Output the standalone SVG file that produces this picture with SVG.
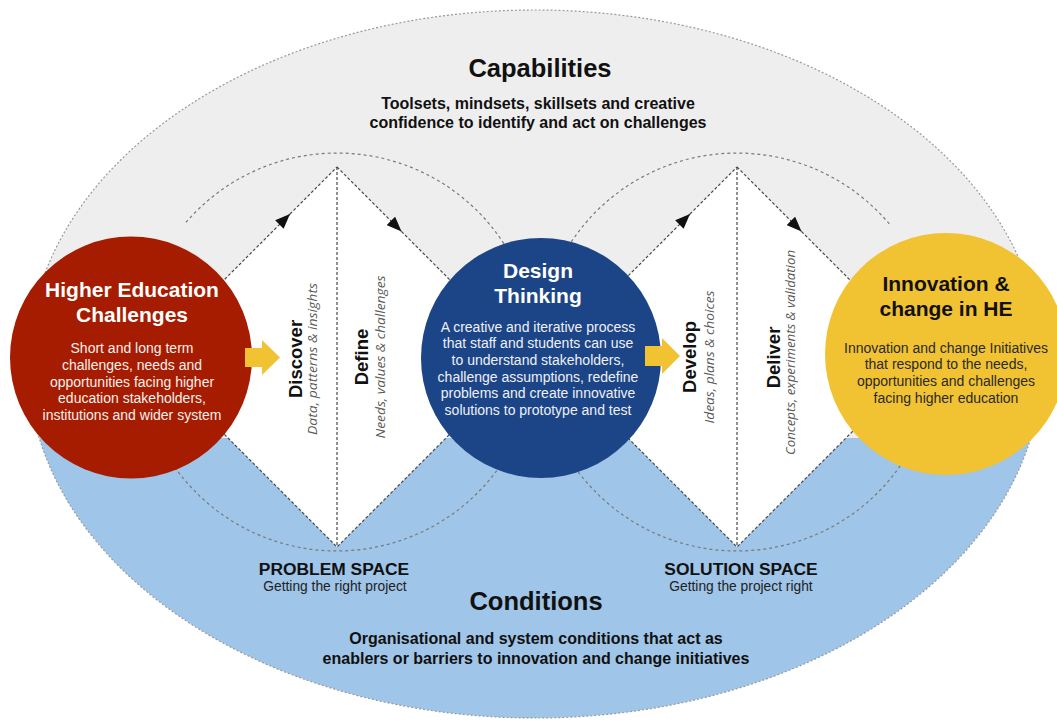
<svg xmlns="http://www.w3.org/2000/svg" width="1057" height="720" viewBox="0 0 1057 720">
  <style>
    .sans { font-family: "Liberation Sans", Arial, sans-serif; }
    .title { font-size: 25.5px; font-weight: bold; fill: #111; text-anchor: middle; }
    .lead { font-size: 16px; font-weight: bold; fill: #111; text-anchor: middle; }
    .space { font-size: 17.4px; font-weight: bold; fill: #111; text-anchor: middle; }
    .spacesub { font-size: 13.8px; fill: #222; text-anchor: middle; }
    .head { font-size: 21px; font-weight: bold; text-anchor: middle; }
    .body { font-size: 14px; text-anchor: middle; }
    .phase { font-size: 18.5px; font-weight: bold; fill: #111; text-anchor: middle; }
    .phasesub { font-family: "Open Sans", "DejaVu Sans", sans-serif; font-style: italic; font-size: 13px; fill: #5a5a5a; text-anchor: middle; }
    .edge { fill: none; stroke: #4a4a4a; stroke-width: 1.2; stroke-dasharray: 3 2; }
    .loop { fill: none; stroke: #7a7a7a; stroke-width: 1.2; stroke-dasharray: 3 3; }
    .push { fill: #f1c232; }
  </style>
  <defs>
    <clipPath id="field">
      <ellipse cx="535" cy="364" rx="507" ry="354"/>
    </clipPath>
    <marker id="arrowhead" markerUnits="userSpaceOnUse" markerWidth="15" markerHeight="12" refX="15" refY="6" orient="auto">
      <path d="M0,0 L15,6 L0,12 Z" fill="#111" stroke="none"/>
    </marker>
  </defs>

  <rect width="1057" height="720" fill="#ffffff"/>

  <!-- outer field: capabilities above, conditions below -->
  <g id="field-background">
    <g clip-path="url(#field)">
      <rect x="0" y="0" width="1057" height="438" fill="#eeeeee"/>
      <rect x="0" y="438" width="1057" height="282" fill="#9fc5e8"/>
    </g>
    <ellipse cx="535" cy="364" rx="507" ry="354" fill="none" stroke="#9a9a9a" stroke-width="1.2" stroke-dasharray="2 2"/>
  </g>

  <g id="capabilities" class="sans">
    <text class="title" x="540" y="77">Capabilities</text>
    <text class="lead" x="538" y="108.5">Toolsets, mindsets, skillsets and creative</text>
    <text class="lead" x="538" y="127.5">confidence to identify and act on challenges</text>
  </g>

  <g id="conditions" class="sans">
    <text class="title" x="536" y="610">Conditions</text>
    <text class="lead" x="536" y="644">Organisational and system conditions that act as</text>
    <text class="lead" x="536" y="663.5">enablers or barriers to innovation and change initiatives</text>
  </g>

  <g id="problem-space-label" class="sans">
    <text class="space" x="334" y="575">PROBLEM SPACE</text>
    <text class="spacesub" x="335" y="591">Getting the right project</text>
  </g>

  <g id="solution-space-label" class="sans">
    <text class="space" x="741" y="575">SOLUTION SPACE</text>
    <text class="spacesub" x="741" y="591">Getting the project right</text>
  </g>

  <!-- diamond panels (white fill only; outlines live with the connectors) -->
  <g id="problem-diamond">
    <polygon points="337,167 527,357 337,547 147,357" fill="#ffffff"/>
  </g>
  <g id="solution-diamond">
    <polygon points="737,167 927,357 737,547 547,357" fill="#ffffff"/>
  </g>

  <g id="connectors">
    <!-- iteration loops around each diamond -->
    <path class="loop" d="M186,222.4 A199,199 0 0 1 512,257.3"/>
    <path class="loop" d="M162,446.7 A199,199 0 0 0 512,446.7"/>
    <path class="loop" d="M562,257.3 A199,199 0 0 1 890,224.8"/>
    <path class="loop" d="M562,446.7 A199,199 0 0 0 912,446.7"/>
    <!-- problem space: diverge / converge -->
    <path class="edge" d="M147,357 L290,214" marker-end="url(#arrowhead)"/>
    <path class="edge" d="M290,214 L337,167"/>
    <path class="edge" d="M337,167 L401.5,231.5" marker-end="url(#arrowhead)"/>
    <path class="edge" d="M401.5,231.5 L527,357"/>
    <path class="edge" d="M527,357 L337,547 L147,357"/>
    <path class="edge" d="M337,167 L337,547"/>
    <!-- solution space: diverge / converge -->
    <path class="edge" d="M547,357 L690,214" marker-end="url(#arrowhead)"/>
    <path class="edge" d="M690,214 L737,167"/>
    <path class="edge" d="M737,167 L801.5,231.5" marker-end="url(#arrowhead)"/>
    <path class="edge" d="M801.5,231.5 L927,357"/>
    <path class="edge" d="M927,357 L737,547 L547,357"/>
    <path class="edge" d="M737,167 L737,547"/>
  </g>

  <g id="discover" class="sans">
    <text class="phase" x="302" y="359" transform="rotate(-90 302 359)">Discover</text>
    <text class="phasesub" x="317" y="359" transform="rotate(-90 317 359)" textLength="152" lengthAdjust="spacingAndGlyphs">Data, patterns &amp; insights</text>
  </g>
  <g id="define" class="sans">
    <text class="phase" x="368" y="357" transform="rotate(-90 368 357)">Define</text>
    <text class="phasesub" x="385" y="357" transform="rotate(-90 385 357)" textLength="163" lengthAdjust="spacingAndGlyphs">Needs, values &amp; challenges</text>
  </g>
  <g id="develop" class="sans">
    <text class="phase" x="696" y="357" transform="rotate(-90 696 357)">Develop</text>
    <text class="phasesub" x="714" y="357" transform="rotate(-90 714 357)" textLength="133" lengthAdjust="spacingAndGlyphs">Ideas, plans &amp; choices</text>
  </g>
  <g id="deliver" class="sans">
    <text class="phase" x="780" y="357.5" transform="rotate(-90 780 357.5)">Deliver</text>
    <text class="phasesub" x="795" y="352.5" transform="rotate(-90 795 352.5)" textLength="205" lengthAdjust="spacingAndGlyphs">Concepts, experiments &amp; validation</text>
  </g>

  <g id="he-challenges" class="sans">
    <circle cx="131" cy="357.5" r="121" fill="#a61c00"/>
    <text class="head" x="132" y="297" fill="#ffffff">Higher Education</text>
    <text class="head" x="132" y="322" fill="#ffffff">Challenges</text>
    <g class="body" fill="#f4f0ee">
      <text x="132" y="353.3">Short and long term</text>
      <text x="132" y="370">challenges, needs and</text>
      <text x="132" y="386.7">opportunities facing higher</text>
      <text x="132" y="403.3">education stakeholders,</text>
      <text x="132" y="420">institutions and wider system</text>
    </g>
  </g>

  <g id="design-thinking" class="sans">
    <circle cx="541" cy="358" r="120" fill="#1c4587"/>
    <text class="head" x="538" y="277.7" fill="#ffffff">Design</text>
    <text class="head" x="538" y="302.7" fill="#ffffff">Thinking</text>
    <g class="body" fill="#eef0f5">
      <text x="538" y="331.5">A creative and iterative process</text>
      <text x="538" y="348.2">that staff and students can use</text>
      <text x="538" y="364.9">to understand stakeholders,</text>
      <text x="538" y="381.6">challenge assumptions, redefine</text>
      <text x="538" y="398.3">problems and create innovative</text>
      <text x="538" y="415">solutions to prototype and test</text>
    </g>
  </g>

  <g id="innovation-change" class="sans">
    <circle cx="946" cy="354" r="121" fill="#f1c232"/>
    <text class="head" x="946" y="290.7" fill="#111111">Innovation &amp;</text>
    <text class="head" x="946" y="315.5" fill="#111111">change in HE</text>
    <g class="body" fill="#2a2a2a">
      <text x="946" y="352.7">Innovation and change Initiatives</text>
      <text x="946" y="369.3">that respond to the needs,</text>
      <text x="946" y="386">opportunities and challenges</text>
      <text x="946" y="402.7">facing higher education</text>
    </g>
  </g>

  <!-- flow arrows into each space -->
  <g id="flow-arrows">
    <polygon class="push" points="245,348 262,348 262,340 280,357.5 262,375 262,367 245,367"/>
    <polygon class="push" points="645,346 662,346 662,338 680,356 662,374 662,366 645,366"/>
  </g>
</svg>
